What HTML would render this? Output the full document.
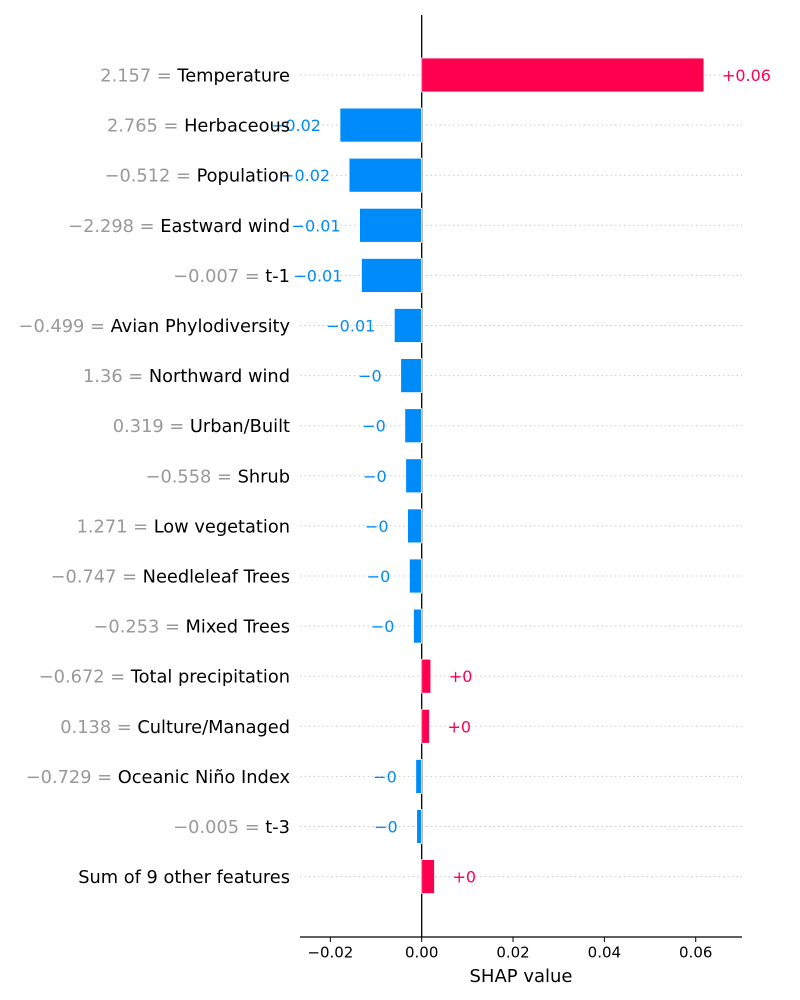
<!DOCTYPE html>
<html><head><meta charset="utf-8"><style>
html,body{margin:0;padding:0;background:#fff;}
svg{display:block;font-family:"DejaVu Sans","Liberation Sans",sans-serif;}
</style></head><body>
<svg id="chart" width="800" height="1000" viewBox="0 0 800 1000"></svg>
<script>
const features = ["Temperature","Herbaceous","Population","Eastward wind","t-1","Avian Phylodiversity","Northward wind","Urban/Built","Shrub","Low vegetation","Needleleaf Trees","Mixed Trees","Total precipitation","Culture/Managed","Oceanic Niño Index","t-3","Sum of 9 other features"];
const featureValues = ["2.157","2.765","\u22120.512","\u22122.298","\u22120.007","\u22120.499","1.36","0.319","\u22120.558","1.271","\u22120.747","\u22120.253","\u22120.672","0.138","\u22120.729","\u22120.005",""];
const shapValues = [0.0618,-0.0179,-0.0159,-0.0136,-0.0132,-0.0060,-0.0046,-0.0037,-0.0035,-0.0031,-0.0027,-0.0018,0.0020,0.0017,-0.0013,-0.0011,0.0028];
const valueLabels = ["+0.06","\u22120.02","\u22120.02","\u22120.01","\u22120.01","\u22120.01","\u22120","\u22120","\u22120","\u22120","\u22120","\u22120","+0","+0","\u22120","\u22120","+0"];
const xTicks = [-0.02,0,0.02,0.04,0.06];
const xTickLabels = ["\u22120.02","0.00","0.02","0.04","0.06"];

const svg = document.getElementById('chart');
const NS = "http://www.w3.org/2000/svg";
const x0 = 421.7, pxPerUnit = 4567;
const xScale = v => x0 + v * pxPerUnit;
const yScale = i => 75 + i * 50.1;
const RED = "#ff0051", BLUE = "#008bfb";
function mk(tag, attrs, text){
  const e = document.createElementNS(NS, tag);
  for (const k in attrs) e.setAttribute(k, attrs[k]);
  if (text !== undefined) e.textContent = text;
  svg.appendChild(e);
  return e;
}
features.forEach((f, i) => {
  const y = yScale(i);
  const g = mk('line', {x1:300, x2:742, y1:y, y2:y, stroke:"#ccc", "stroke-width":1, "stroke-dasharray":"1.5,3"});
  
  
});
const zl = mk('line', {x1:x0, x2:x0, y1:15, y2:937, stroke:"#000", "stroke-width":1.3});


features.forEach((f, i) => {
  const y = yScale(i), v = shapValues[i];
  const xa = xScale(0), xb = xScale(v);
  const col = v >= 0 ? RED : BLUE;
  const r = mk('rect', {x:Math.min(xa,xb), y:y-17, width:Math.abs(xb-xa), height:34, fill:col, stroke:"#fff", "stroke-width":0.8});
  
  
  const t = mk('text', {x: v >= 0 ? xb + 18 : xb - 19, y: y + 6, "font-size":16, fill:col, "text-anchor": v >= 0 ? "start" : "end"}, valueLabels[i]);
  
  
  const lab = mk('text', {x:290, y:y+6.5, "font-size":17.8, "text-anchor":"end", fill:"#000"});
  
  
  if (featureValues[i] !== "") {
    const ts = document.createElementNS(NS, 'tspan');
    ts.setAttribute('fill', '#999');
    ts.textContent = featureValues[i] + " = ";
    lab.appendChild(ts);
  }
  const ts2 = document.createElementNS(NS, 'tspan');
  ts2.textContent = f;
  lab.appendChild(ts2);
});
const ax = mk('line', {x1:300, x2:742, y1:937, y2:937, stroke:"#000", "stroke-width":1.2});


xTicks.forEach((t, i) => {
  const x = xScale(t);
  const tk = mk('line', {x1:x, x2:x, y1:937, y2:942, stroke:"#000", "stroke-width":1});
  
  
  const tl = mk('text', {x:x, y:957.5, "font-size":15, "text-anchor":"middle", fill:"#000"}, xTickLabels[i]);
  
  
});
const xt = mk('text', {x:521, y:982, "font-size":18, "text-anchor":"middle", fill:"#000"}, "SHAP value");


</script>
</body></html>
